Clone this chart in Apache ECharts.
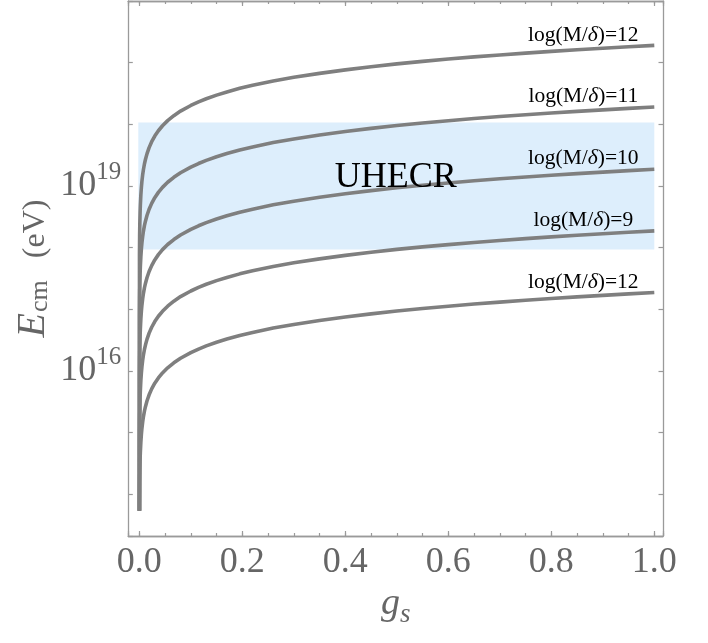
<!DOCTYPE html>
<html>
<head>
<meta charset="utf-8">
<script src="https://cdn.jsdelivr.net/npm/echarts@6/dist/echarts.min.js"></script>
<style>
html,body{margin:0;padding:0;background:#fff;}
#c{width:708px;height:643px;}
</style>
</head>
<body>
<div id="c"></div>
<script>
// g_s sample positions
const gs = [0.0002, 0.0003, 0.0006, 0.001, 0.0015, 0.002, 0.003, 0.004, 0.005, 0.0065, 0.008, 0.01, 0.012, 0.015, 0.019, 0.024, 0.03, 0.037, 0.045, 0.055, 0.067, 0.08, 0.1, 0.115, 0.13, 0.15, 0.17, 0.195, 0.22, 0.26, 0.3, 0.35, 0.4, 0.45, 0.5, 0.55, 0.6, 0.65, 0.7, 0.75, 0.8, 0.85, 0.9, 0.95, 1.0];
// log10(E_cm / eV), one array per curve
const logE_M12 = [13.73, 17.898, 18.187, 18.400, 18.569, 18.689, 18.858, 18.978, 19.071, 19.180, 19.267, 19.360, 19.432, 19.524, 19.621, 19.717, 19.809, 19.895, 19.976, 20.059, 20.140, 20.214, 20.305, 20.363, 20.414, 20.473, 20.525, 20.583, 20.633, 20.703, 20.762, 20.826, 20.883, 20.934, 20.980, 21.021, 21.058, 21.093, 21.125, 21.155, 21.183, 21.209, 21.234, 21.258, 21.280];
const logE_M11 = [13.73, 16.898, 17.187, 17.400, 17.569, 17.689, 17.858, 17.978, 18.071, 18.180, 18.267, 18.360, 18.432, 18.524, 18.621, 18.717, 18.809, 18.895, 18.976, 19.059, 19.140, 19.214, 19.305, 19.363, 19.414, 19.473, 19.525, 19.583, 19.633, 19.703, 19.762, 19.826, 19.883, 19.934, 19.980, 20.021, 20.058, 20.093, 20.125, 20.155, 20.183, 20.209, 20.234, 20.258, 20.280];
const logE_M10 = [13.73, 15.888, 16.177, 16.390, 16.559, 16.679, 16.848, 16.968, 17.061, 17.170, 17.257, 17.350, 17.422, 17.514, 17.611, 17.707, 17.799, 17.885, 17.966, 18.049, 18.130, 18.204, 18.295, 18.353, 18.404, 18.463, 18.515, 18.573, 18.623, 18.693, 18.752, 18.816, 18.873, 18.924, 18.970, 19.011, 19.048, 19.083, 19.115, 19.145, 19.173, 19.199, 19.224, 19.248, 19.270];
const logE_M9  = [13.73, 14.888, 15.177, 15.390, 15.559, 15.679, 15.848, 15.968, 16.061, 16.170, 16.257, 16.350, 16.422, 16.514, 16.611, 16.707, 16.799, 16.885, 16.966, 17.049, 17.130, 17.204, 17.295, 17.353, 17.404, 17.463, 17.515, 17.573, 17.623, 17.693, 17.752, 17.816, 17.873, 17.924, 17.970, 18.011, 18.048, 18.083, 18.115, 18.145, 18.173, 18.199, 18.224, 18.248, 18.270];
const logE_Mlow = [13.73, 13.888, 14.177, 14.390, 14.559, 14.679, 14.848, 14.968, 15.061, 15.170, 15.257, 15.350, 15.422, 15.514, 15.611, 15.707, 15.799, 15.885, 15.966, 16.049, 16.130, 16.204, 16.295, 16.353, 16.404, 16.463, 16.515, 16.573, 16.623, 16.693, 16.752, 16.816, 16.873, 16.924, 16.970, 17.011, 17.048, 17.083, 17.115, 17.145, 17.173, 17.199, 17.224, 17.248, 17.270];
const curveLabels = ['log(M/δ)=12', 'log(M/δ)=11', 'log(M/δ)=10', 'log(M/δ)=9', 'log(M/δ)=12'];
const curves = [logE_M12, logE_M11, logE_M10, logE_M9, logE_Mlow];
// UHECR band
const bandG = [-0.002, 1.0];
const bandE = [9.3e17, 1.07e20];
const bandText = 'UHECR';
const bandTextPos = [0.498, 1.39e19];
// axes
const xTickLabels = ['0.0', '0.2', '0.4', '0.6', '0.8', '1.0'];
const yLabelPowers = [16, 19];
const xRange = [-0.0214, 1.0169];
const yRange = [Math.pow(10, 13.32), 1e22];

const FONT = 'Liberation Serif';
const FRAME = '#9a9a9a';
const LABEL = '#666666';

function xFmt(v) {
  for (const t of xTickLabels) { if (Math.abs(parseFloat(t) - v) < 1e-6) return t; }
  return '';
}
function yFmt(v) {
  const L = Math.log10(v), r = Math.round(L);
  if (Math.abs(L - r) > 1e-6 || yLabelPowers.indexOf(r) < 0) return '';
  return '{b|10}{s|' + r + '}';
}
function xAxisDef(pos, split, tickLen, labels, extra) {
  return Object.assign({
    type: 'value', position: pos, min: xRange[0], max: xRange[1], splitNumber: split,
    axisLine: { show: true, onZero: false, lineStyle: { color: FRAME, width: 1.3 } },
    axisTick: { show: true, inside: true, length: tickLen, lineStyle: { color: FRAME, width: 1.2 } },
    axisLabel: labels ? { show: true, formatter: xFmt, margin: 9, color: LABEL, fontFamily: FONT, fontSize: 36 } : { show: false },
    splitLine: { show: false }
  }, extra || {});
}
function yAxisDef(pos, labels, extra) {
  return Object.assign({
    type: 'log', logBase: 10, position: pos, min: yRange[0], max: yRange[1],
    axisLine: { show: true, onZero: false, lineStyle: { color: FRAME, width: 1.3 } },
    axisTick: { show: true, inside: true, length: 4.5, lineStyle: { color: FRAME, width: 1.2 } },
    axisLabel: labels ? {
      show: true, formatter: yFmt, margin: 7, color: LABEL, fontFamily: FONT,
      rich: { b: { fontSize: 36, lineHeight: 52, fontFamily: FONT, color: LABEL },
              s: { fontSize: 25, lineHeight: 25, verticalAlign: 'top', fontFamily: FONT, color: LABEL } }
    } : { show: false },
    splitLine: { show: false }
  }, extra || {});
}

function labelRich(t) {
  const parts = t.split('δ');
  return '{t|' + parts[0] + '}{d|δ}{t|' + parts[1] + '}';
}

const series = curves.map((arr, i) => {
  const last = arr.length - 1;
  const s = {
    type: 'line', xAxisIndex: 0, yAxisIndex: 0, showSymbol: false, smooth: false,
    silent: true, z: 3,
    lineStyle: { color: '#7f7f7f', width: 3.6, join: 'round', cap: 'butt' },
    data: arr.map((v, k) => [gs[k], Math.pow(10, v)]),
    markPoint: {
      symbol: 'circle', symbolSize: 0, silent: true, animation: false,
      data: [{
        coord: [gs[last], Math.pow(10, arr[last])],
        label: {
          show: true, position: 'inside', offset: [-71, -10.5],
          formatter: labelRich(curveLabels[i]),
          rich: {
            t: { fontFamily: FONT, fontSize: 21.5, lineHeight: 22, color: '#000' },
            d: { fontFamily: FONT, fontSize: 21.5, lineHeight: 22, fontStyle: 'italic', color: '#000' }
          }
        }
      }]
    }
  };
  if (i === 4) {
    s.markArea = {
      silent: true, animation: false,
      itemStyle: { color: '#ddeefc' },
      data: [[{ coord: [bandG[0], bandE[0]] }, { coord: [bandG[1], bandE[1]] }]]
    };
  }
  if (i === 2) {
    s.markPoint.data.push({
      coord: bandTextPos,
      label: { show: true, position: 'inside', formatter: bandText, fontFamily: FONT, fontSize: 36, color: '#000' }
    });
  }
  return s;
});

const chart = echarts.init(document.getElementById('c'), null, { renderer: 'canvas' });
chart.setOption({
  animation: false,
  backgroundColor: '#fff',
  grid: { left: 128.3, right: 45, top: 1, bottom: 107, containLabel: false },
  xAxis: [
    xAxisDef('bottom', 5, 5, true, {
      name: '{g|g}{s|s}', nameLocation: 'middle', nameGap: 54, nameMoveOverlap: false,
      nameTextStyle: {
        color: LABEL, fontFamily: FONT,
        rich: { g: { fontSize: 38, fontStyle: 'italic', lineHeight: 38, padding: [0, 0, 5, 0], verticalAlign: 'bottom', fontFamily: FONT, color: LABEL },
                s: { fontSize: 27, fontStyle: 'italic', lineHeight: 27, verticalAlign: 'bottom', fontFamily: FONT, color: LABEL } }
      }
    }),
    xAxisDef('bottom', 20, 3, false),
    xAxisDef('top', 5, 5, false),
    xAxisDef('top', 20, 3, false)
  ],
  yAxis: [
    yAxisDef('left', true, {
      name: '{e|E}{c|cm}{u|(eV)}', nameLocation: 'middle', nameGap: 75, nameMoveOverlap: false,
      nameTextStyle: {
        color: LABEL, fontFamily: FONT,
        rich: { e: { fontSize: 40, fontStyle: 'italic', lineHeight: 40, verticalAlign: 'bottom', fontFamily: FONT, color: LABEL },
                c: { fontSize: 26, lineHeight: 26, verticalAlign: 'bottom', padding: [0, 22, 0, 1], fontFamily: FONT, color: LABEL },
                u: { fontSize: 32, lineHeight: 32, verticalAlign: 'bottom', padding: [0, 0, 2, 0], fontFamily: FONT, color: LABEL } }
      }
    }),
    yAxisDef('right', false)
  ],
  series: series
});
</script>
</body>
</html>
